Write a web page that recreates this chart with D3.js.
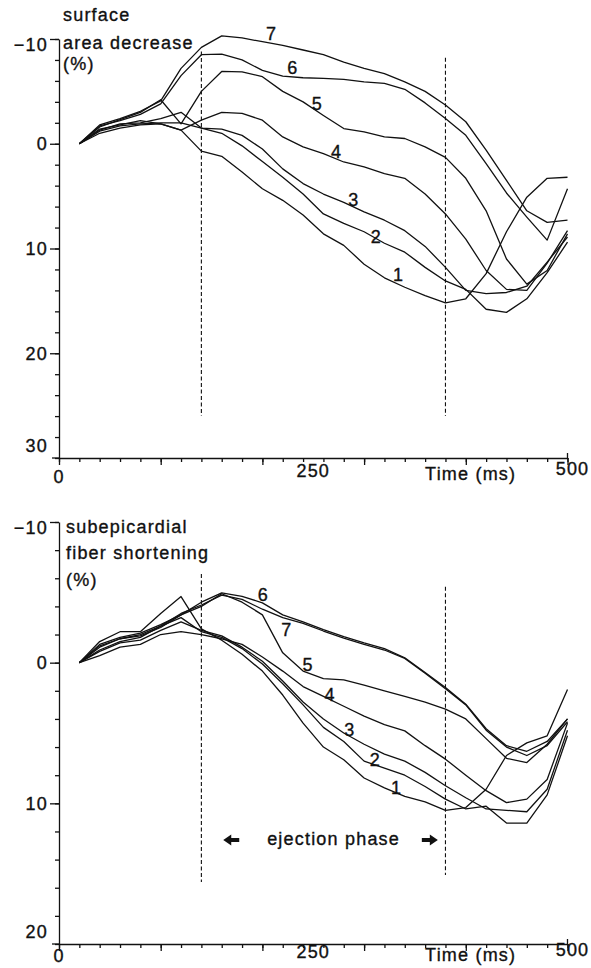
<!DOCTYPE html>
<html><head><meta charset="utf-8">
<script src="https://cdn.jsdelivr.net/npm/d3@7"></script>
<style>
body{margin:0;background:#fff;}
svg{display:block;font-family:"Liberation Sans",Arial,Helvetica,sans-serif;}
</style></head>
<body><svg id="c" width="591" height="968"></svg>
<script>
// ---------------- DATA ----------------
const times = [20,40,60,80,100,120,140,160,180,200,220,240,260,280,300,320,340,360,380,400,420,440,460,480,500];
const seriesNames = ["1","2","3","4","5","6","7"];

// surface area decrease (%)
const area1 = [0,-1.0,-1.5,-1.8,-1.9,-1.3,0.7,1.2,2.7,4.3,5.4,6.8,8.6,9.7,11.5,12.8,13.7,14.5,15.2,14.8,12.4,8.4,5.1,3.3,3.2];
const area2 = [0,-1.2,-1.7,-1.9,-2.0,-2.0,-1.5,-1.0,0.2,1.7,3.2,4.8,6.7,7.6,8.4,9.5,10.35,11.8,13.1,13.9,15.8,16.1,14.8,12.3,9.4];
const area3 = [0,-1.3,-1.9,-2.0,-2.4,-3.0,-1.5,-1.4,-0.8,0.5,2.4,3.8,4.8,5.6,6.5,7.3,8.3,9.8,11.8,14.0,14.3,14.2,13.6,11.3,8.9];
const area4 = [0,-1.4,-1.8,-2.2,-1.9,-1.3,-2.25,-3.0,-2.9,-2.25,-0.65,0.3,0.94,1.74,2.2,2.85,3.3,4.8,6.7,9.1,12.1,13.9,14.0,11.4,8.3];
const area5 = [0,-1.6,-2.3,-3.0,-4.2,-1.9,-5.0,-6.9,-6.87,-6.4,-5.0,-4.0,-2.7,-1.45,-1.13,-0.65,-0.5,0.3,1.3,3.3,6.4,11.0,13.4,12.1,8.6];
const area6 = [0,-1.7,-2.2,-2.8,-3.8,-6.5,-8.5,-8.55,-8.0,-7.0,-6.46,-6.3,-6.24,-6.15,-5.9,-5.76,-5.2,-3.9,-2.4,-0.8,1.9,4.7,7.0,9.2,4.3];
const area7 = [0,-1.8,-2.4,-3.1,-4.1,-7.2,-9.2,-10.3,-10.1,-9.74,-9.4,-8.95,-8.5,-7.8,-7.2,-6.7,-5.9,-5.0,-3.7,-2.1,0.6,3.5,6.4,7.5,7.3];

// subepicardial fiber shortening (%)
const fiber1 = [0,-1.5,-2.2,-2.2,-3.5,-4.7,-2.4,-1.6,-0.6,0.6,2.3,4.3,6.0,6.9,8.2,8.9,9.5,9.9,10.5,10.3,9.0,6.6,5.7,5.2,1.9];
const fiber2 = [0,-0.9,-1.5,-1.8,-2.6,-3.2,-2.2,-1.8,-1.0,0.1,1.5,3.0,4.6,5.6,7.0,7.5,8.0,8.8,9.7,10.4,10.2,11.4,11.4,9.4,5.2];
const fiber3 = [0,-0.8,-1.4,-1.6,-2.3,-2.9,-2.3,-1.9,-1.1,-0.1,1.3,2.8,4.0,5.0,5.8,6.5,7.0,7.8,8.75,9.6,10.4,10.5,10.6,9.0,4.8];
const fiber4 = [0,-0.5,-1.1,-1.3,-2.0,-2.2,-2.0,-1.7,-1.3,-0.4,0.6,1.7,2.4,3.1,3.8,4.4,4.85,5.9,6.86,8.0,9.1,9.95,9.7,8.3,4.3];
const fiber5 = [0,-1.1,-1.7,-1.9,-2.5,-3.4,-4.0,-4.9,-4.3,-3.4,-0.7,0.6,1.13,1.23,1.6,2.0,2.4,2.8,3.3,4.0,5.4,6.8,7.1,5.8,4.0];
const fiber6 = [0,-1.3,-1.8,-2.1,-2.7,-3.4,-4.3,-4.96,-4.72,-4.25,-3.4,-2.9,-2.35,-1.85,-1.4,-1.0,-0.35,0.7,1.77,2.95,4.7,5.9,6.3,5.6,4.0];
const fiber7 = [0,-1.2,-1.7,-2.0,-2.6,-3.5,-4.1,-4.8,-4.5,-3.8,-3.2,-2.8,-2.25,-1.75,-1.3,-0.9,-0.3,0.75,1.85,3.0,4.8,6.0,6.6,5.9,4.2];

const areaTicks = [-10,0,10,20,30];
const fiberTicks = [-10,0,10,20];
const timeMajorTicks = [0,100,200,300,400,500];
const timeLabels = ["0","250","500"];
const timeLabelValues = [0,250,500];
const phaseTimes = [140,380];

// ---------------- LAYOUT ----------------
const svg = d3.select("#c");
const FS = 18;
const INK = "#111";
const x = d3.scaleLinear().domain([0,500]).range([59,567.5]);

const panels = [
  {series:[area1,area2,area3,area4,area5,area6,area7], domain:[-10,30], range:[39,458], ticks:areaTicks,
   title:["surface","area decrease","(%)"], titleX:63, titleY:[21,49,70],
   labelPos:[[334,12.5],[312,8.9],[290,5.4],[273,0.8],[254,-3.8],[230,-7.2],[209,-10.5]],
   dash:[[-8.8,26],[-8.2,26]], xLabelY:[483,477,480,475]},
  {series:[fiber1,fiber2,fiber3,fiber4,fiber5,fiber6,fiber7], domain:[-10,20], range:[522,944], ticks:fiberTicks,
   title:["subepicardial","fiber shortening","(%)"], titleX:66, titleY:[533,559,586],
   labelPos:[[332,8.9],[311,6.9],[286,4.8],[266.5,2.3],[245,0.2],[201,-4.8],[224,-2.3]],
   dash:[[-6.3,15.6],[-5.4,15.1]], xLabelY:[962,958,961,956],
   annotation:{text:"ejection phase", t:270, v:12.6, leftTip:161.5, rightTip:372.5}}
];

function styleAxis(g){
  g.selectAll("path,line").attr("stroke",INK).attr("stroke-width",1.3);
  g.selectAll("text").attr("fill",INK).attr("stroke",INK).attr("stroke-width",0.35)
    .style("font-size",FS+"px").style("letter-spacing","1.2px")
    .style("font-family",'"Liberation Sans",Arial,sans-serif');
}

panels.forEach(p => {
  const y = d3.scaleLinear().domain(p.domain).range(p.range);
  const g = svg.append("g");
  const x0 = x(0), yAxis = p.range[1];

  // y minor ticks
  const minor = d3.range(p.domain[0], p.domain[1]+0.001, 2);
  g.append("g").attr("transform",`translate(${x0},0)`)
    .call(d3.axisLeft(y).tickValues(minor).tickSize(4).tickSizeOuter(0).tickFormat(""))
    .call(styleAxis);
  // y major ticks + labels
  const ya = g.append("g").attr("transform",`translate(${x0},0)`)
    .call(d3.axisLeft(y).tickValues(p.ticks).tickSize(9).tickPadding(2).tickSizeOuter(0)
      .tickFormat(d => d<0 ? "\u2212"+Math.abs(d) : String(d)))
    .call(styleAxis);
  ya.select(".domain").remove();
  ya.selectAll(".tick text").attr("dy", d => d===p.domain[1] ? "-0.35em" : (d===p.domain[0] ? "0.62em" : "0.32em"));
  ya.selectAll(".tick").filter(d => d===p.domain[1]).select("line").remove();

  // x axis
  g.append("g").attr("transform",`translate(0,${yAxis})`)
    .call(d3.axisBottom(x).tickValues(d3.range(0,501,20)).tickSize(4).tickSizeOuter(0).tickFormat(""))
    .call(styleAxis);
  const xa = g.append("g").attr("transform",`translate(0,${yAxis})`)
    .call(d3.axisBottom(x).tickValues(timeMajorTicks).tickSize(7).tickSizeOuter(0).tickFormat(""))
    .call(styleAxis);
  xa.select(".domain").remove();
  g.append("line").attr("x1",x0-7).attr("x2",x0).attr("y1",yAxis).attr("y2",yAxis)
    .attr("stroke",INK).attr("stroke-width",1.3);
  g.append("line").attr("x1",x(500)).attr("x2",x(500)).attr("y1",yAxis).attr("y2",yAxis-5)
    .attr("stroke",INK).attr("stroke-width",1.3);

  const tstyle = s => s.attr("fill",INK).attr("stroke",INK).attr("stroke-width",0.35)
    .style("font-size",FS+"px").style("letter-spacing","1.2px");
  // x labels
  timeLabels.forEach((lab,i) => {
    const xv = x(timeLabelValues[i]) + (i===2 ? 5 : 0);
    g.append("text").attr("x",xv).attr("y",p.xLabelY[i===0?0:(i===1?1:3)])
      .attr("text-anchor","middle").text(lab).call(tstyle);
  });
  g.append("text").attr("x",x(360)).attr("y",p.xLabelY[2]).text("Time (ms)").call(tstyle);

  // title
  p.title.forEach((t,i) => g.append("text").attr("x",p.titleX).attr("y",p.titleY[i]).text(t).call(tstyle));

  // dashed phase lines
  phaseTimes.forEach((t,i) => {
    g.append("line").attr("x1",x(t)).attr("x2",x(t)).attr("y1",y(p.dash[i][0])).attr("y2",y(p.dash[i][1]))
      .attr("stroke",INK).attr("stroke-width",1.1).attr("stroke-dasharray","4,2.5");
  });

  // series lines
  const line = d3.line().x((d,i)=>x(times[i])).y(d=>y(d));
  p.series.forEach(s => {
    g.append("path").datum(s).attr("d",line).attr("fill","none")
      .attr("stroke",INK).attr("stroke-width",1.3).attr("stroke-linejoin","round");
  });

  // series labels
  seriesNames.forEach((n,i) => {
    g.append("text").attr("x",x(p.labelPos[i][0])).attr("y",y(p.labelPos[i][1]))
      .attr("text-anchor","middle").attr("dominant-baseline","central").text(n).call(tstyle);
  });

  // annotation
  if (p.annotation) {
    const a = p.annotation, yc = y(a.v);
    g.append("text").attr("x",x(a.t)).attr("y",yc+5).attr("text-anchor","middle").text(a.text).call(tstyle);
    const lt = x(a.leftTip), rt = x(a.rightTip);
    g.append("path").attr("fill",INK)
      .attr("d",`M${lt},${yc} L${lt+8},${yc-5.5} L${lt+8},${yc-2} L${lt+16},${yc-2} L${lt+16},${yc+2} L${lt+8},${yc+2} L${lt+8},${yc+5.5} Z`);
    g.append("path").attr("fill",INK)
      .attr("d",`M${rt},${yc} L${rt-8},${yc-5.5} L${rt-8},${yc-2} L${rt-16},${yc-2} L${rt-16},${yc+2} L${rt-8},${yc+2} L${rt-8},${yc+5.5} Z`);
  }
});
</script>
</body></html>
